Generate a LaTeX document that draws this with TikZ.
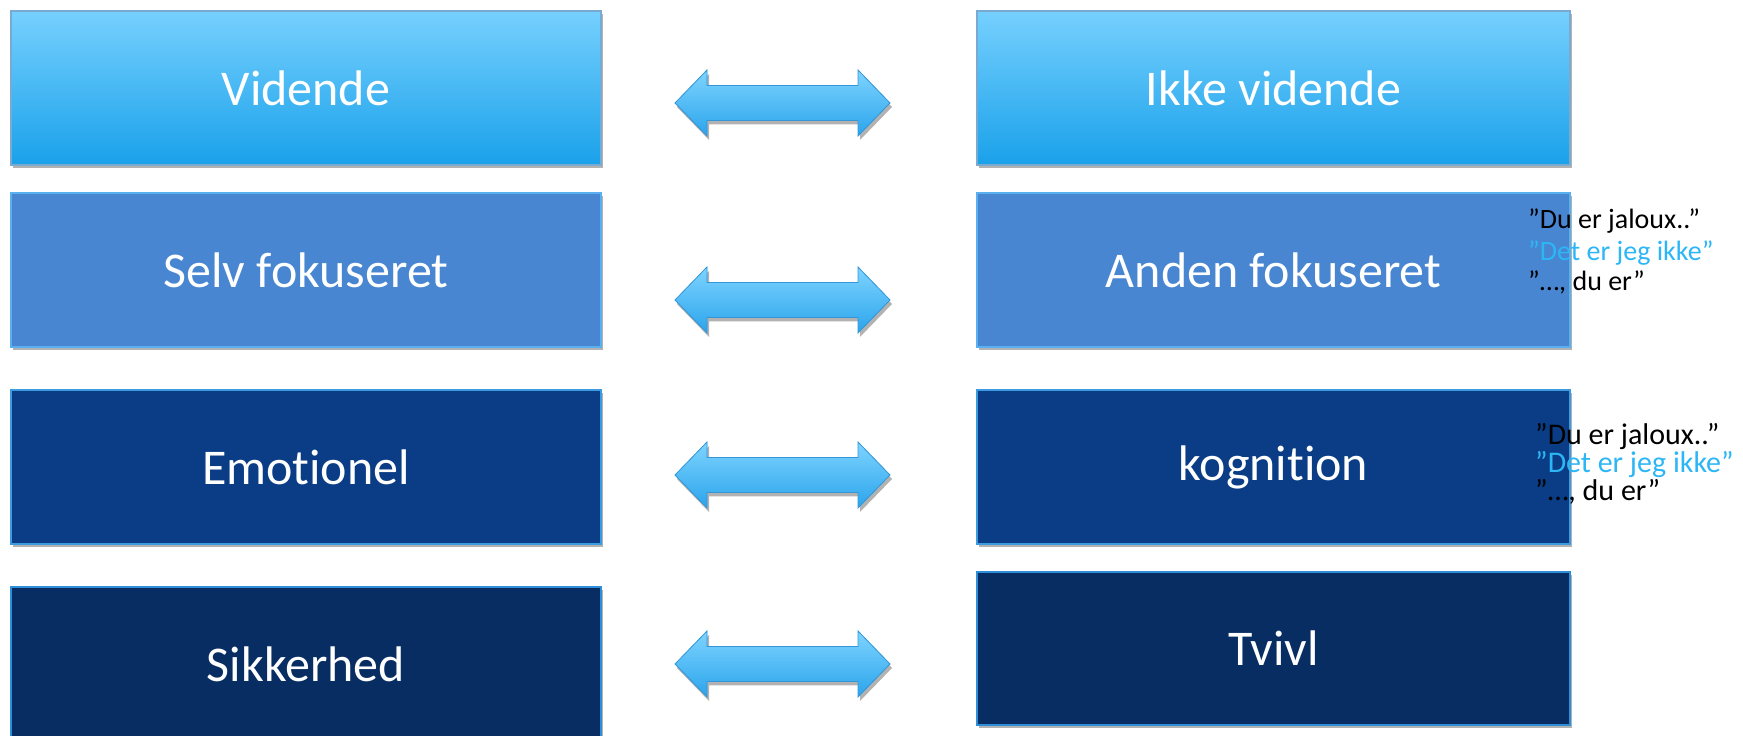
\documentclass[tikz,border=0pt]{standalone}
\usepackage{fontspec}
\setmainfont{Carlito}[Ligatures={NoCommon}]
\usetikzlibrary{shadows,calc}

\definecolor{skyTop}{RGB}{118,208,254}
\definecolor{skyBot}{RGB}{26,161,234}
\definecolor{skyEdge}{RGB}{120,170,210}
\definecolor{midBlue}{RGB}{72,134,210}
\definecolor{midEdge}{RGB}{90,176,238}
\definecolor{deepBlue}{RGB}{11,61,134}
\definecolor{deepEdge}{RGB}{60,155,224}
\definecolor{navyBlue}{RGB}{7,45,99}
\definecolor{navyEdge}{RGB}{46,143,216}
\definecolor{arrTop}{RGB}{126,212,255}
\definecolor{arrBot}{RGB}{43,164,236}
\definecolor{arrEdge}{RGB}{52,150,214}
\definecolor{quoteBlue}{RGB}{45,182,245}

\tikzset{
  box/.style={rectangle, inner sep=0pt, text=white, line width=1.2pt,
    font=\fontsize{50}{60}\selectfont,
    drop shadow={shadow xshift=2pt, shadow yshift=-3pt, opacity=0.3, fill=black}},
  leftbox/.style={box, minimum width=590pt},
  rightbox/.style={box, minimum width=593pt},
  quote/.style={anchor=base west, inner sep=0pt},
  dblarrow/.style={fill=arrBot, top color=arrTop, bottom color=arrBot,
    draw=arrEdge, line width=0.8pt, line join=miter,
    drop shadow={shadow xshift=2pt, shadow yshift=-4pt, opacity=0.3, fill=black}}
}

% double-headed block arrow centred on a named coordinate
\newcommand{\blockarrow}[1]{%
  \path[dblarrow] ($(#1)+(-107.5,0)$) -- ++(32,33) -- ++(0,-15.5) -- ++(151,0)
    -- ++(0,15.5) -- ++(32,-33) -- ++(-32,-33) -- ++(0,15.5) -- ++(-151,0)
    -- ++(0,-15.5) -- cycle;}

\begin{document}
\begin{tikzpicture}[x=1pt,y=1pt]
\useasboundingbox (0,0) rectangle (1743,736);

% left column
\node[leftbox, minimum height=154pt, top color=skyTop, bottom color=skyBot, draw=skyEdge]
  (vid) at (306,648) {Vidende};
\node[leftbox, minimum height=154pt, fill=midBlue, draw=midEdge]
  (self) at (306,466) {Selv fokuseret};
\node[leftbox, minimum height=154pt, fill=deepBlue, draw=deepEdge]
  (emo) at (306,269) {Emotionel};
\node[leftbox, minimum height=155pt, fill=navyBlue, draw=navyEdge]
  (sik) at (306,71.5) {Sikkerhed};

% right column
\node[rightbox, minimum height=154pt, top color=skyTop, bottom color=skyBot, draw=skyEdge]
  (ikke) at (1273.5,648) {Ikke vidende};
\node[rightbox, minimum height=154pt, fill=midBlue, draw=midEdge]
  (anden) at (1273.5,466) {Anden fokuseret};
\node[rightbox, minimum height=154pt, fill=deepBlue, draw=deepEdge]
  (kog) at (1273.5,269) {kognition};
\node[rightbox, minimum height=153pt, fill=navyBlue, draw=navyEdge]
  (tvivl) at (1273.5,87.5) {Tvivl};

% arrows between the pairs
\coordinate (ar1) at (782.5,633);
\coordinate (ar2) at (782.5,436);
\coordinate (ar3) at (782.5,261);
\coordinate (ar4) at (782.5,72);
\blockarrow{ar1}
\blockarrow{ar2}
\blockarrow{ar3}
\blockarrow{ar4}

% dialogue snippets
\begin{scope}[font=\fontsize{28}{32}\selectfont]
\node[quote] (qa1) at (1528,507) {”Du er jaloux..”};
\node[quote, text=quoteBlue] (qa2) at (1528,475) {”Det er jeg ikke”};
\node[quote] (qa3) at (1528,445) {”…, du er”};
\end{scope}
\begin{scope}[font=\fontsize{30}{34}\selectfont]
\node[quote] (qb1) at (1535,291) {”Du er jaloux..”};
\node[quote, text=quoteBlue] (qb2) at (1535,263) {”Det er jeg ikke”};
\node[quote] (qb3) at (1535,235) {”…, du er”};
\end{scope}
\end{tikzpicture}
\end{document}
